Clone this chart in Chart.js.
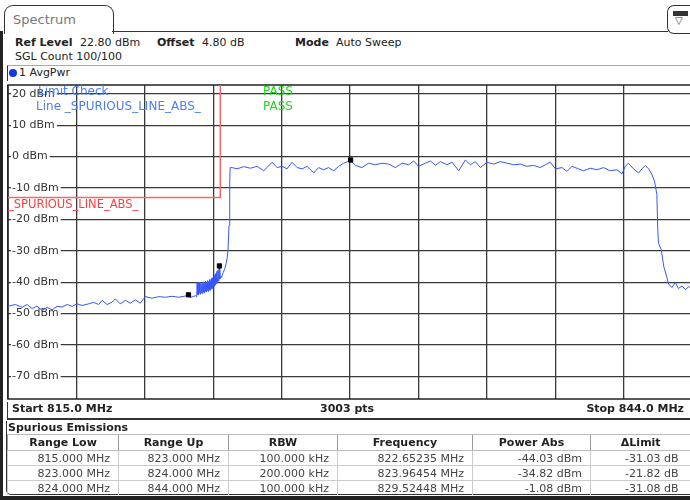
<!DOCTYPE html>
<html>
<head>
<meta charset="utf-8">
<script src="https://cdn.jsdelivr.net/npm/chart.js@4.4.1/dist/chart.umd.min.js"></script>
<style>
    body { margin: 0; width: 690px; height: 500px; overflow: hidden; background: #fff; position: relative;
           font-family: 'DejaVu Sans', sans-serif; font-size: 11px; color: #222; }
    .abs { position: absolute; white-space: nowrap; line-height: 14px; }
    .b { font-weight: bold; }
    #tab { position: absolute; left: 4px; top: 5px; width: 108px; height: 28px; border: 1.5px solid #333;
           border-bottom: none; border-radius: 9px 9px 0 0; background: #fff; }
    #tab span { position: absolute; left: 8px; top: 6px; font-size: 13px; color: #777; }
    #icon { position: absolute; left: 667px; top: 5px; width: 30px; height: 27px; border: 1.5px solid #333;
            border-right: none; border-radius: 7px 0 0 7px; }
    #chartBox { position: absolute; left: 0; top: 80px; width: 700px; height: 324px; }
    table { position: absolute; left: 7px; top: 434px; border-collapse: collapse; table-layout: fixed; width: 683px; }
    th, td { font-size: 11px; overflow: hidden; white-space: nowrap; }
    th { height: 15px; line-height: 15px; text-align: center; border-left: 1px solid #999; border-top: 1px solid #bbb;
         border-bottom: 1px solid #bbb; color: #222; padding: 0; }
    td { height: 14px; line-height: 13px; text-align: right; color: #444; padding: 0 8px 0 0;
         border-left: 1px solid #ccc; border-top: 1px solid #ccc; }
</style>
</head>
<body>
<div id="tab"><span>Spectrum</span></div>
<div class="abs" style="left:112px;top:31px;width:556px;height:0;border-top:1.5px solid #333"></div>
<div id="icon">
    <div style="position:absolute;left:5px;top:5px;width:15px;height:5px;background:#333"></div>
    <div style="position:absolute;left:7px;top:9px;font-size:10px;color:#333">&#9661;</div>
</div>
<div class="abs" style="left:0;top:31px;width:3px;height:469px;background:#222"></div>
<div class="abs" style="left:0;top:496px;width:690px;height:4px;background:#222"></div>

<div class="abs b" style="left:15px;top:36px">Ref Level</div>
<div class="abs" style="left:80px;top:36px">22.80 dBm</div>
<div class="abs b" style="left:157px;top:36px">Offset</div>
<div class="abs" style="left:202px;top:36px">4.80 dB</div>
<div class="abs b" style="left:295px;top:36px">Mode</div>
<div class="abs" style="left:336px;top:36px">Auto Sweep</div>
<div class="abs" style="left:15px;top:50px">SGL Count 100/100</div>

<div class="abs" style="left:7px;top:65px;width:690px;height:15px;border-top:1px solid #aaa;border-left:1.5px solid #333"></div>
<div class="abs" style="left:9px;top:69px;width:8px;height:8px;border-radius:50%;background:#1436e8"></div>
<div class="abs" style="left:19px;top:66px">1 AvgPwr</div>

<div id="chartBox"><canvas id="spectrum" width="700" height="324"></canvas></div>

<div class="abs" style="left:7px;top:402px;width:690px;height:16px;border-left:1.5px solid #333;border-bottom:2px solid #333"></div>
<div class="abs b" style="left:12px;top:402px">Start 815.0 MHz</div>
<div class="abs b" style="left:320px;top:402px">3003 pts</div>
<div class="abs b" style="right:6px;top:402px">Stop 844.0 MHz</div>

<div class="abs" style="left:6px;top:421px;width:690px;height:73px;border-left:1.5px solid #333;border-bottom:1.5px solid #333;border-radius:0 0 0 5px"></div>
<div class="abs b" style="left:8px;top:421px">Spurious Emissions</div>
<table id="spurTable"></table>

<script>
// trace 1 AvgPwr (MHz / dBm)
const freqMHz = [
    815.00, 815.31, 815.60, 815.81, 816.02, 816.23, 816.45, 816.66, 816.87, 817.08, 817.29, 817.51,
    817.72, 817.93, 818.14, 818.42, 818.63, 818.84, 818.99, 819.20, 819.41, 819.55, 819.76, 819.98,
    820.19, 820.40, 820.61, 820.82, 821.11, 821.39, 821.67, 821.96, 822.24, 822.52, 822.65, 822.73, 822.94,
    823.00, 823.02, 823.04, 823.06, 823.08, 823.10, 823.12, 823.14, 823.16, 823.18, 823.20, 823.22,
    823.24, 823.26, 823.28, 823.30, 823.32, 823.34, 823.36, 823.38, 823.40, 823.42, 823.44, 823.46,
    823.48, 823.50, 823.52, 823.54, 823.56, 823.58, 823.60, 823.62, 823.64, 823.66, 823.68, 823.70,
    823.72, 823.74, 823.76, 823.78, 823.80, 823.82, 823.84, 823.86, 823.88, 823.90, 823.92, 823.94,
    823.96, 823.98, 824.00,
    824.05, 824.12, 824.18, 824.25, 824.30, 824.33, 824.37, 824.40, 824.42,
    824.50, 824.71, 824.99, 825.28, 825.56, 825.84, 825.98, 826.20, 826.41, 826.62, 826.83, 827.04,
    827.26, 827.47, 827.68, 827.96, 828.17, 828.38, 828.59, 828.81, 829.02, 829.23, 829.40, 829.52,
    829.73, 830.01, 830.29, 830.57, 830.86, 831.14, 831.42, 831.71, 831.99, 832.20, 832.41, 832.69,
    832.91, 833.12, 833.33, 833.61, 833.83, 834.11, 834.39, 834.60, 834.81, 835.03, 835.31, 835.59,
    835.87, 836.16, 836.44, 836.72, 837.00, 837.28, 837.57, 837.78, 837.99, 838.21, 838.49, 838.70,
    838.91, 839.19, 839.40, 839.69, 839.97, 840.25, 840.53, 840.82, 841.03, 841.17, 841.31, 841.52,
    841.73, 841.88, 842.02, 842.16, 842.30, 842.41, 842.51, 842.55, 842.58, 842.70, 842.80, 842.94,
    843.01, 843.15, 843.29, 843.43, 843.58, 843.72, 843.86, 844.00
];
const levelDbm = [
    -47.7, -47.1, -48.0, -47.1, -48.4, -47.6, -49.0, -48.0, -48.8, -47.7, -47.9, -47.1,
    -47.7, -46.9, -47.4, -46.9, -46.4, -47.1, -45.8, -47.1, -46.4, -45.3, -46.9, -45.8,
    -46.7, -45.6, -46.7, -44.6, -45.1, -44.6, -44.8, -44.5, -44.8, -44.4, -44.0, -44.9, -44.3,
    -44.6, -40.2, -43.9, -40.6, -44.0, -40.0, -43.5, -41.0, -43.8, -40.3, -43.2, -40.8,
    -43.6, -40.1, -43.0, -39.9, -43.4, -40.5, -42.8, -39.7, -43.1, -40.2, -42.6, -39.5,
    -42.9, -39.8, -42.4, -39.2, -42.6, -39.6, -42.0, -38.9, -42.2, -38.6, -41.7, -38.9,
    -41.5, -38.0, -41.2, -37.6, -40.8, -37.2, -40.5, -36.6, -40.1, -36.2, -39.6, -35.6,
    -34.8, -39.0, -38.0,
    -38.5, -37.0, -36.0, -34.0, -32.0, -29.5, -22.0, -8.0, -3.5,
    -3.5, -3.9, -3.2, -3.7, -3.1, -4.5, -3.5, -1.8, -3.5, -3.1, -3.9, -1.8,
    -3.5, -3.9, -3.1, -5.2, -3.5, -4.2, -3.5, -4.5, -3.1, -2.1, -1.6, -1.08,
    -2.8, -3.5, -2.1, -2.6, -2.1, -2.4, -3.5, -2.1, -2.6, -1.4, -3.1, -2.1,
    -1.4, -2.8, -1.6, -2.6, -1.8, -4.5, -1.1, -2.6, -1.6, -3.5, -1.8, -2.4,
    -1.6, -2.1, -2.6, -2.4, -3.1, -2.8, -3.5, -2.6, -1.8, -3.9, -3.5, -4.7,
    -3.1, -3.9, -4.5, -3.7, -4.2, -3.5, -4.5, -4.2, -5.5, -3.1, -2.1, -3.9,
    -5.2, -3.9, -2.8, -3.9, -5.7, -7.8, -12.0, -23.5, -27.6, -29.7, -34.9, -38.6,
    -40.6, -41.7, -40.1, -42.0, -41.2, -42.4, -41.4, -42.5
];

// peak markers (from the result table)
const markerFreq = [822.65235, 823.96454, 829.52448];
const markerLevel = [-44.03, -34.82, -1.08];

// _SPURIOUS_LINE_ABS_ limit line
const limitFreq = [815, 824, 824, 844];
const limitLevel = [-13, -13, 30, 30];

const xGrid = [815, 817.9, 820.8, 823.7, 826.6, 829.5, 832.4, 835.3, 838.2, 841.1, 844];
const yTicks = [-70, -60, -50, -40, -30, -20, -10, 0, 10, 20];
const refLevel = 22.8;
const rangeDb = 100;

// spurious emissions table
const rangeLow = ['815.000 MHz', '823.000 MHz', '824.000 MHz'];
const rangeUp = ['823.000 MHz', '824.000 MHz', '844.000 MHz'];
const rbw = ['100.000 kHz', '200.000 kHz', '100.000 kHz'];
const peakFreq = ['822.65235 MHz', '823.96454 MHz', '829.52448 MHz'];
const powerAbs = ['-44.03 dBm', '-34.82 dBm', '-1.08 dBm'];
const deltaLimit = ['-31.03 dB', '-21.82 dB', '-31.08 dB'];

function buildTable() {
    const widths = [111, 110, 109, 135, 118, 100];
    const heads = ['Range Low', 'Range Up', 'RBW', 'Frequency', 'Power Abs', '\u0394Limit'];
    let html = '<colgroup>' + widths.map(w => `<col style="width:${w}px">`).join('') + '</colgroup>';
    html += '<tr>' + heads.map(h => `<th>${h}</th>`).join('') + '</tr>';
    for (let r = 0; r < rangeLow.length; r++) {
        const cells = [rangeLow[r], rangeUp[r], rbw[r], peakFreq[r], powerAbs[r], deltaLimit[r]];
        html += '<tr>' + cells.map((c, i) => `<td style="${i === 5 ? 'padding-right:12px' : ''}">${c}</td>`).join('') + '</tr>';
    }
    document.getElementById('spurTable').innerHTML = html;
}

const overlayText = {
    id: 'overlayText',
    afterDraw(chart) {
        const { ctx, chartArea: a, scales } = chart;
        ctx.save();
        ctx.textBaseline = 'middle';
        ctx.font = '12px "DejaVu Sans"';
        ctx.fillStyle = '#4a7cff';
        ctx.fillText('Limit Check', a.left + 30, a.top + 7);
        ctx.fillText('Line _SPURIOUS_LINE_ABS_', a.left + 28, a.top + 22);
        ctx.fillStyle = '#1fd61f';
        ctx.fillText('PASS', a.left + 255, a.top + 7);
        ctx.fillText('PASS', a.left + 255, a.top + 22);
        ctx.font = '11.5px "DejaVu Sans"';
        ctx.fillStyle = '#ff4040';
        ctx.fillText('_SPURIOUS_LINE_ABS_', a.left, scales.y.getPixelForValue(limitLevel[0]) + 8);
        ctx.restore();
    }
};

const frame = {
    id: 'frame',
    beforeDatasetsDraw(chart) {
        const { ctx, chartArea: a } = chart;
        ctx.save();
        ctx.strokeStyle = '#222';
        ctx.lineWidth = 1.5;
        ctx.strokeRect(a.left, a.top, a.right - a.left, a.bottom - a.top);
        ctx.restore();
    }
};

function initializeChart() {
    const ctx = document.getElementById('spectrum');
    new Chart(ctx, {
        type: 'line',
        data: {
            datasets: [{
                data: markerFreq.map((f, i) => ({ x: f, y: markerLevel[i] })),
                showLine: false,
                pointStyle: 'rect',
                pointRadius: 3,
                backgroundColor: '#000',
                borderColor: '#000',
                order: 0
            }, {
                data: freqMHz.map((f, i) => ({ x: f, y: levelDbm[i] })),
                borderColor: '#3556ff',
                borderWidth: 1,
                pointRadius: 0,
                tension: 0,
                order: 1
            }, {
                data: limitFreq.map((f, i) => ({ x: f, y: limitLevel[i] })),
                borderColor: '#ff6464',
                borderWidth: 1.5,
                pointRadius: 0,
                tension: 0,
                order: 2
            }]
        },
        options: {
            responsive: false,
            animation: false,
            layout: { padding: { left: 8, right: 8, top: 1, bottom: 1 } },
            plugins: { legend: { display: false }, tooltip: { enabled: false } },
            scales: {
                x: {
                    type: 'linear',
                    min: 815,
                    max: 844,
                    afterBuildTicks: s => { s.ticks = xGrid.map(v => ({ value: v })); },
                    afterFit: s => { s.height = 0; s.paddingLeft = 0; s.paddingRight = 0; },
                    ticks: { display: false },
                    grid: { color: '#3a3a3a', lineWidth: 1.3, drawTicks: false },
                    border: { display: false }
                },
                y: {
                    min: refLevel - rangeDb,
                    max: refLevel,
                    afterBuildTicks: s => { s.ticks = yTicks.map(v => ({ value: v })); },
                    afterFit: s => { s.width = 0; s.paddingTop = 0; s.paddingBottom = 0; },
                    ticks: {
                        mirror: true,
                        padding: 4,
                        color: '#333',
                        font: { family: 'DejaVu Sans', size: 11 },
                        showLabelBackdrop: true,
                        backdropColor: '#fff',
                        backdropPadding: { top: 0, bottom: 0, left: 1, right: 2 },
                        callback: v => v + ' dBm'
                    },
                    grid: { color: '#3a3a3a', lineWidth: 1.3, drawTicks: false },
                    border: { display: false }
                }
            }
        },
        plugins: [frame, overlayText]
    });
}

buildTable();
initializeChart();
</script>
</body>
</html>
